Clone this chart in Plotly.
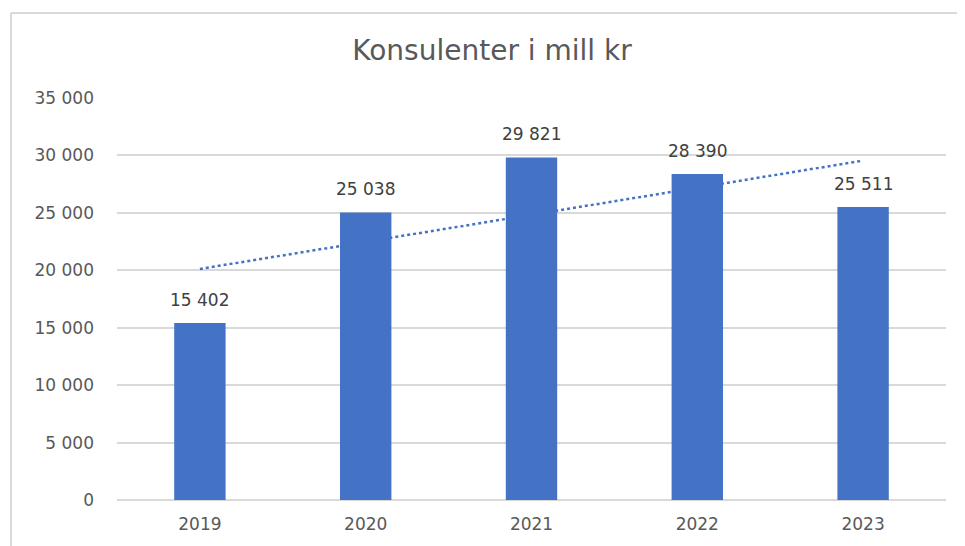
import numpy as np
import plotly.graph_objects as go

years = ["2019", "2020", "2021", "2022", "2023"]
values = [15402, 25038, 29821, 28390, 25511]
y_ticks = [0, 5000, 10000, 15000, 20000, 25000, 30000, 35000]
title_text = "Konsulenter i mill kr"

# linear trendline fitted to the bar values
xi = np.arange(len(values))
slope, intercept = np.polyfit(xi, values, 1)
trend = [intercept, intercept + slope * xi[-1]]

OFF = 8                      # default body margin of the html page
W, H = 965 - OFF, 546 - OFF  # figure size
L, R, T, B = 117 - OFF, 19, 98 - OFF, 46
pw, ph = W - L - R, H - T - B

def px(x):   # page pixel -> paper
    return (x - OFF - L) / pw

def py(y):
    return (H - B - (y - OFF)) / ph

FONT = "DejaVu Sans"

fig = go.Figure()
fig.add_trace(go.Bar(
    x=years, y=values, width=0.31,
    marker=dict(color="#4472C4", line=dict(width=0)),
    hoverinfo="skip",
))
fig.add_trace(go.Scatter(
    x=[years[0], years[-1]], y=trend, mode="lines",
    line=dict(color="#4472C4", width=2.5, dash="dot"),
    hoverinfo="skip",
))

annotations = [
    dict(x=i, y=v, text=f"{v:,}".replace(",", " "), showarrow=False,
         xanchor="center", yanchor="bottom", yshift=11,
         font=dict(size=17, color="#404040", family=FONT))
    for i, v in enumerate(values)
]

fig.update_layout(
    width=W, height=H,
    margin=dict(l=L, r=R, t=T, b=B),
    paper_bgcolor="white", plot_bgcolor="white",
    showlegend=False,
    separators=". ",
    font=dict(family=FONT, color="#595959"),
    title=dict(text=title_text, x=(492 - OFF) / W, xanchor="center",
               y=1 - (50 - OFF) / H, yanchor="middle",
               font=dict(size=28, color="#595959", family=FONT)),
    annotations=annotations,
    shapes=[
        dict(type="line", xref="paper", yref="paper",
             x0=px(11), x1=px(975), y0=py(13), y1=py(13),
             line=dict(color="#D9D9D9", width=2)),
        dict(type="line", xref="paper", yref="paper",
             x0=px(11), x1=px(11), y0=py(13), y1=py(560),
             line=dict(color="#D9D9D9", width=2)),
    ],
)
fig.update_xaxes(type="category", categoryorder="array", categoryarray=years,
                 range=[-0.5, len(years) - 0.5],
                 showgrid=False, showline=False, ticks="",
                 ticklabelstandoff=12,
                 tickfont=dict(size=17, color="#595959"))
fig.update_yaxes(range=[0, 35000], tickvals=y_ticks, tickformat=",d",
                 showgrid=True, gridcolor="#D9D9D9", gridwidth=1.5,
                 zeroline=True, zerolinecolor="#D9D9D9", zerolinewidth=1.5,
                 showline=False, ticks="", ticklabelstandoff=22,
                 tickfont=dict(size=17, color="#595959"))

fig.write_html("out.html")
